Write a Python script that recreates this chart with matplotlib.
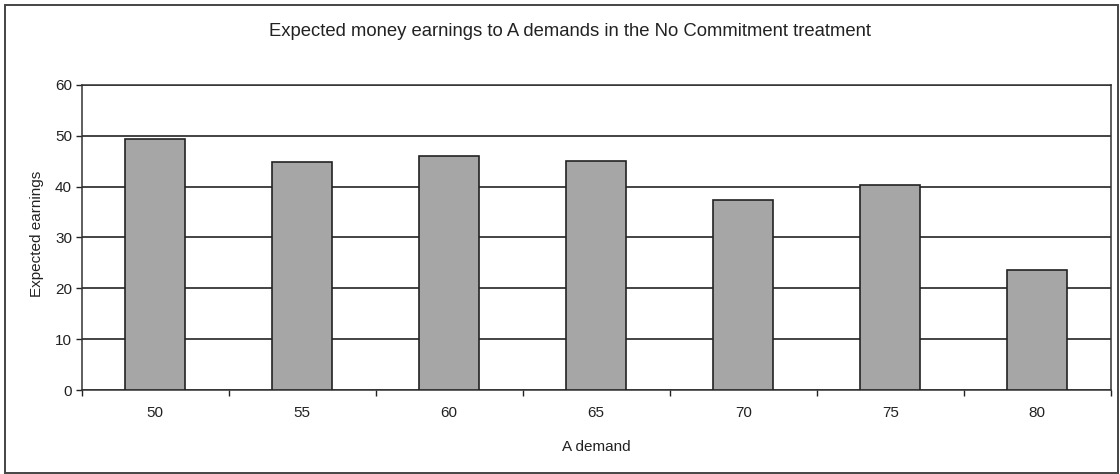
import matplotlib
matplotlib.use("Agg")
import matplotlib.pyplot as plt
from matplotlib.patches import Rectangle
import numpy as np

demands = ["50", "55", "60", "65", "70", "75", "80"]
expected_earnings = [49.3, 44.8, 46.0, 45.1, 37.4, 40.3, 23.6]
y_ticks = [0, 10, 20, 30, 40, 50, 60]

plt.rcParams["font.family"] = ["Liberation Sans", "DejaVu Sans"]

fig = plt.figure(figsize=(11.2, 4.74), dpi=100)
ax = fig.add_axes([0.073, 0.1766, 0.9187, 0.6447])

x = np.arange(len(demands))
ax.bar(x, expected_earnings, width=0.41, color="#a6a6a6",
       edgecolor="#222222", linewidth=1.2, zorder=3)

ax.set_xlim(-0.5, len(demands) - 0.5)
ax.set_ylim(0, 60)
ax.set_yticks(y_ticks)
ax.yaxis.grid(True, color="#111111", linewidth=1.1, zorder=0)

ax.set_xticks(x)
ax.set_xticklabels(demands)
ax.set_xticks(np.arange(len(demands) + 1) - 0.5, minor=True)
ax.tick_params(axis="x", which="major", length=0, pad=11.5, labelsize=11, colors="#222222")
ax.tick_params(axis="x", which="minor", length=4, width=1, direction="out", color="#222222")
ax.tick_params(axis="y", length=4, width=1, direction="out", labelsize=11,
               colors="#222222", pad=3)

for side in ["left", "bottom", "right", "top"]:
    ax.spines[side].set_color("#333333")
    ax.spines[side].set_linewidth(1.1)

ax.set_xlabel("A demand", fontsize=11, labelpad=14, color="#222222")
ax.set_ylabel("Expected earnings", fontsize=11, color="#222222")
ax.yaxis.set_label_coords(-0.037, 0.513)
fig.text(0.509, 0.934, "Expected money earnings to A demands in the No Commitment treatment",
         ha="center", va="center", fontsize=13.3, color="#222222")

# outer chart border
fig.patches.append(Rectangle((5 / 1120, 1 / 474), 1113 / 1120, 468 / 474,
                             transform=fig.transFigure, fill=False,
                             edgecolor="#444444", linewidth=1.4))

fig.savefig("out.png", dpi=100)
